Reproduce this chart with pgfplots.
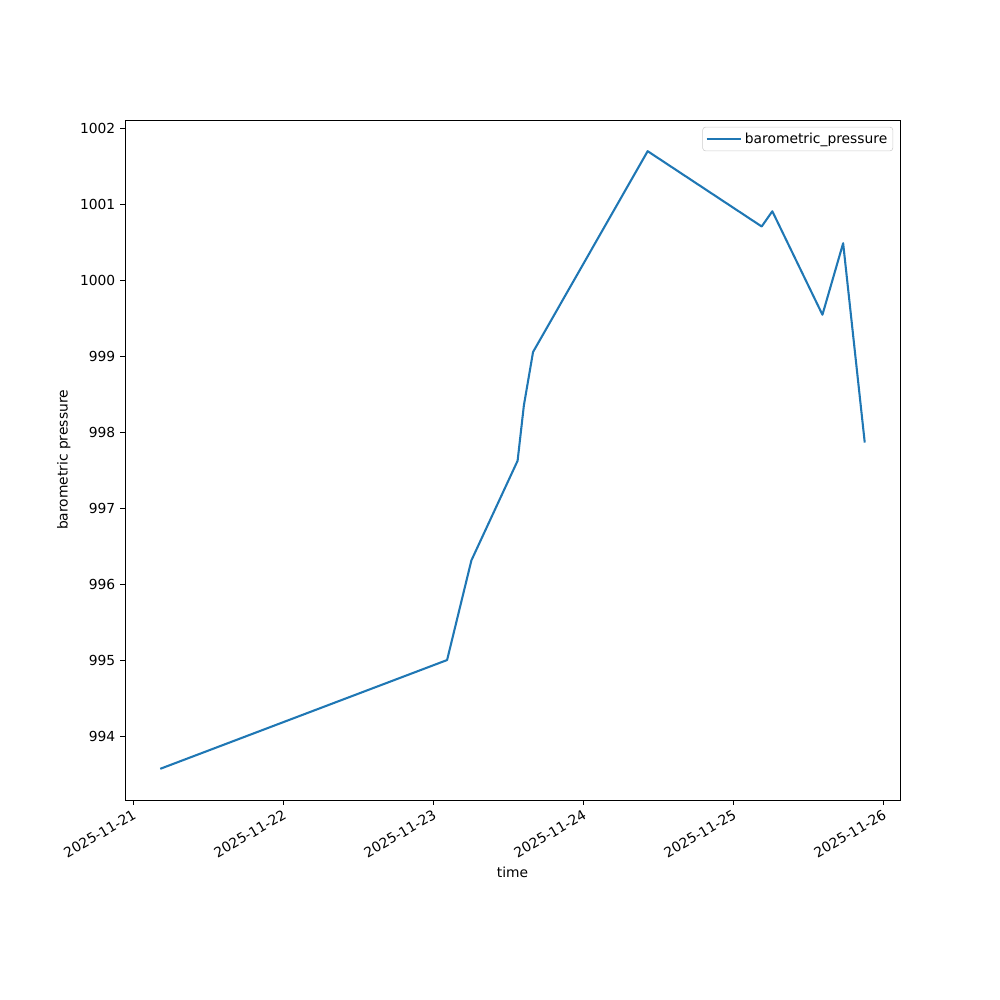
\documentclass[border=0pt]{standalone}
\usepackage{pgfplots}
\pgfplotsset{compat=1.18}
\usepackage{fontspec}
\setmainfont{DejaVu Sans}
\definecolor{mplblue}{HTML}{1F77B4}
\begin{document}
\fontsize{10}{12}\selectfont
\begin{tikzpicture}
\path (0,0) rectangle (10in,10in);
\begin{axis}[
  at={(1.25in,2in)}, anchor=south west,
  scale only axis, width=7.75in, height=6.8in,
  xmin=-0.054, xmax=5.112, ymin=993.17, ymax=1002.11,
  xtick={0,1,2,3,4,5},
  xticklabels={2025-11-21,2025-11-22,2025-11-23,2025-11-24,2025-11-25,2025-11-26},
  ytick={994,995,996,997,998,999,1000,1001,1002},
  /pgf/number format/assume math mode=true,
  yticklabel style={/pgf/number format/1000 sep={}},
  xticklabel style={rotate=30, anchor=north east, inner sep=2pt},
  tick align=outside, tick pos=left,
  major tick length=3.5pt,
  tick style={black, line width=0.6pt},
  axis line style={line width=0.6pt},
  xlabel={time}, ylabel={barometric pressure},
  legend style={at={(1,1)}, xshift=-5pt, yshift=-5pt, anchor=north east, draw=black!20, rounded corners=2pt, font=\fontsize{10}{12}\selectfont, inner sep=2pt},
  legend cell align=left,
  legend image code/.code={\path (-3pt,0pt) -- (22pt,0pt); \draw[#1] (0pt,0pt) -- (20pt,0pt);},
]
\addplot[mplblue, line width=1.5pt, line join=round] coordinates {
(0.181,993.58)
(2.093,995.01)
(2.255,996.32)
(2.563,997.63)
(2.605,998.36)
(2.666,999.06)
(3.430,1001.70)
(4.190,1000.71)
(4.261,1000.91)
(4.595,999.55)
(4.733,1000.49)
(4.877,997.87)
};
\addlegendentry{barometric\_pressure}
\end{axis}
\end{tikzpicture}
\end{document}
